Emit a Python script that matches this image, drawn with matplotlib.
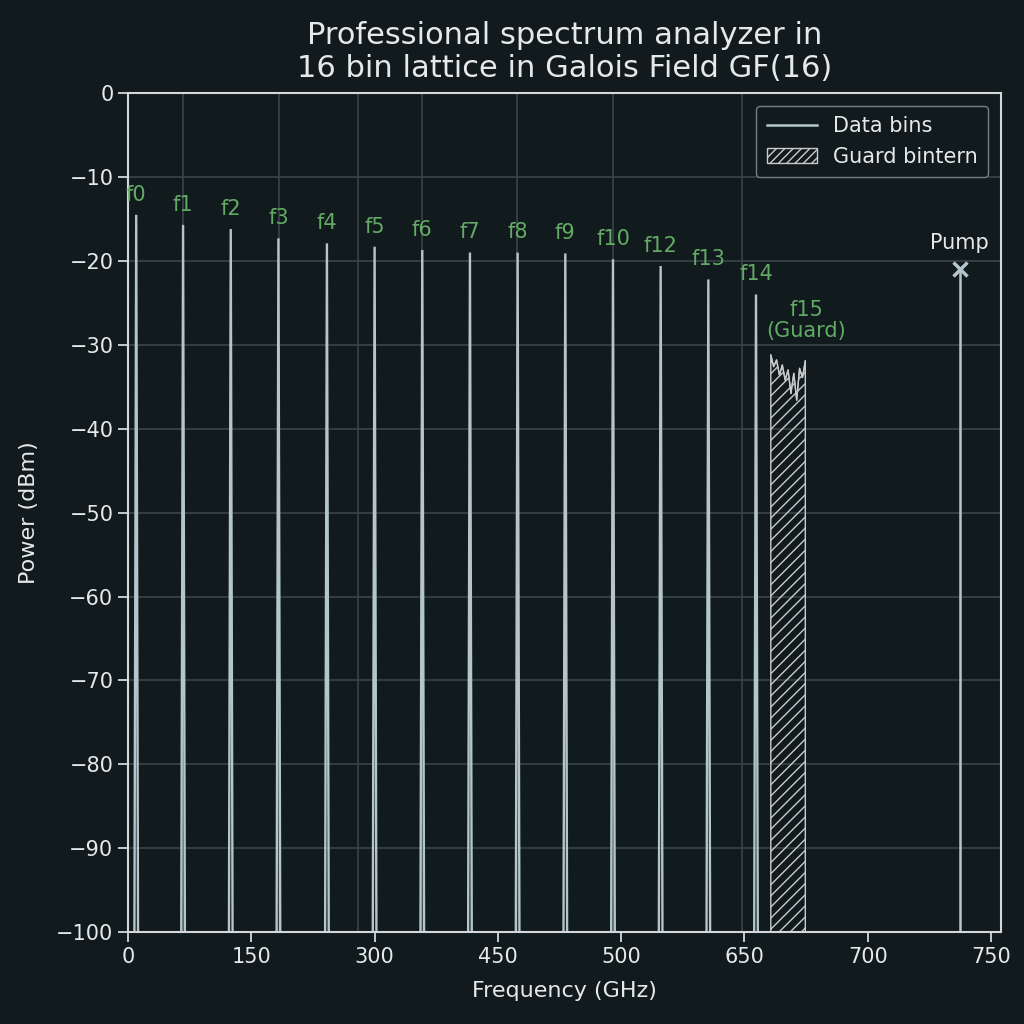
import numpy as np
import matplotlib
matplotlib.use("Agg")
import matplotlib.pyplot as plt
from matplotlib.patches import Patch
from matplotlib.lines import Line2D

# ---- data ----
bin_labels = ["f0", "f1", "f2", "f3", "f4", "f5", "f6", "f7", "f8", "f9",
              "f10", "f12", "f13", "f14"]
bin_freqs = [10, 67, 125, 183, 242, 300, 358, 416, 474, 532, 590, 648, 706, 764]
bin_power = [-14.5, -15.7, -16.2, -17.3, -17.9, -18.3, -18.7, -19.0, -19.0,
             -19.1, -19.8, -20.6, -22.2, -24.0]
guard_freqs = [782, 785.5, 789, 792.5, 796, 799.5, 803, 806.5, 810, 813.5,
               817, 820.5, 824]
guard_power = [-31.2, -32.6, -31.8, -33.6, -32.4, -34.2, -33.0, -35.8, -33.4,
               -36.6, -32.8, -33.9, -31.9]
guard_label_freq = 825
pump_freq = 1012
pump_power = -21.0
floor_db = -100
xtick_pos = [0, 150, 300, 450, 600, 750, 900, 1050]
xtick_labels = ["0", "150", "300", "450", "500", "650", "700", "750"]
grid_x = [67, 184, 280, 358, 473, 590, 747, 900]

BG = "#111a1c"
LINE = "#b4c6cc"
GREEN = "#62aa66"
TXT = "#e6e9ea"
GRID = "#3b4547"
SPINE = "#d5d8d8"

fig = plt.figure(figsize=(10.24, 10.24), dpi=100, facecolor=BG)
ax = fig.add_axes([0.125, 0.0898, 0.8525, 0.8192], facecolor=BG)

w = 2.2
for f, p, lab in zip(bin_freqs, bin_power, bin_labels):
    ax.plot([f - w, f, f + w], [floor_db, p, floor_db], color=LINE, lw=1.7,
            solid_joinstyle="miter")
    ax.text(f, p + 2.4, lab, color=GREEN, fontsize=15, ha="center", va="center")

# guard band
ax.fill_between(guard_freqs, floor_db, guard_power, facecolor="none",
                edgecolor="#c8cccc", hatch="///", lw=1.0)
ax.plot(guard_freqs, guard_power, color="#c8cccc", lw=0.9)
ax.text(guard_label_freq, -29.6, "f15\n(Guard)", color=GREEN, fontsize=15,
        ha="center", va="bottom", linespacing=1.1)

# pump
ax.plot([pump_freq, pump_freq], [floor_db, pump_power], color=LINE, lw=1.8)
ax.plot([pump_freq], [pump_power], marker="x", color=LINE, ms=10, mew=2.5)
ax.text(pump_freq, pump_power + 2.0, "Pump", color=TXT, fontsize=15,
        ha="center", va="bottom")

ax.set_xlim(0, 1062)
ax.set_ylim(-100, 0)
ax.set_xticks(xtick_pos)
ax.set_xticklabels(xtick_labels)
ax.set_yticks(np.arange(-100, 1, 10))
ax.set_xticks(grid_x, minor=True)
ax.tick_params(axis="x", which="minor", length=0)
ax.tick_params(axis="both", which="major", colors=SPINE, labelcolor=TXT,
               labelsize=15, length=7, width=1.3, direction="out")
ax.grid(False)
ax.grid(True, which="minor", axis="x", color=GRID, lw=1.2)
ax.grid(True, which="major", axis="y", color=GRID, lw=1.2)
ax.set_axisbelow(True)
for s in ax.spines.values():
    s.set_color(SPINE)
    s.set_linewidth(1.5)

ax.set_xlabel("Frequency (GHz)", color=TXT, fontsize=16, labelpad=10)
ax.set_ylabel("Power (dBm)", color=TXT, fontsize=16, labelpad=12)
ax.set_title("Professional spectrum analyzer in\n16 bin lattice in Galois Field GF(16)",
             color=TXT, fontsize=22, pad=12, linespacing=1.15)

handles = [Line2D([], [], color=LINE, lw=1.8),
           Patch(facecolor="none", edgecolor="#c8cccc", hatch="////")]
leg = ax.legend(handles, ["Data bins", "Guard bintern"], loc="upper right",
                fontsize=15, facecolor=BG, edgecolor="#777f80", framealpha=1,
                labelcolor=TXT, borderaxespad=0.6, handlelength=2.4,
                borderpad=0.5)

fig.savefig("out.png", dpi=100, facecolor=BG)
